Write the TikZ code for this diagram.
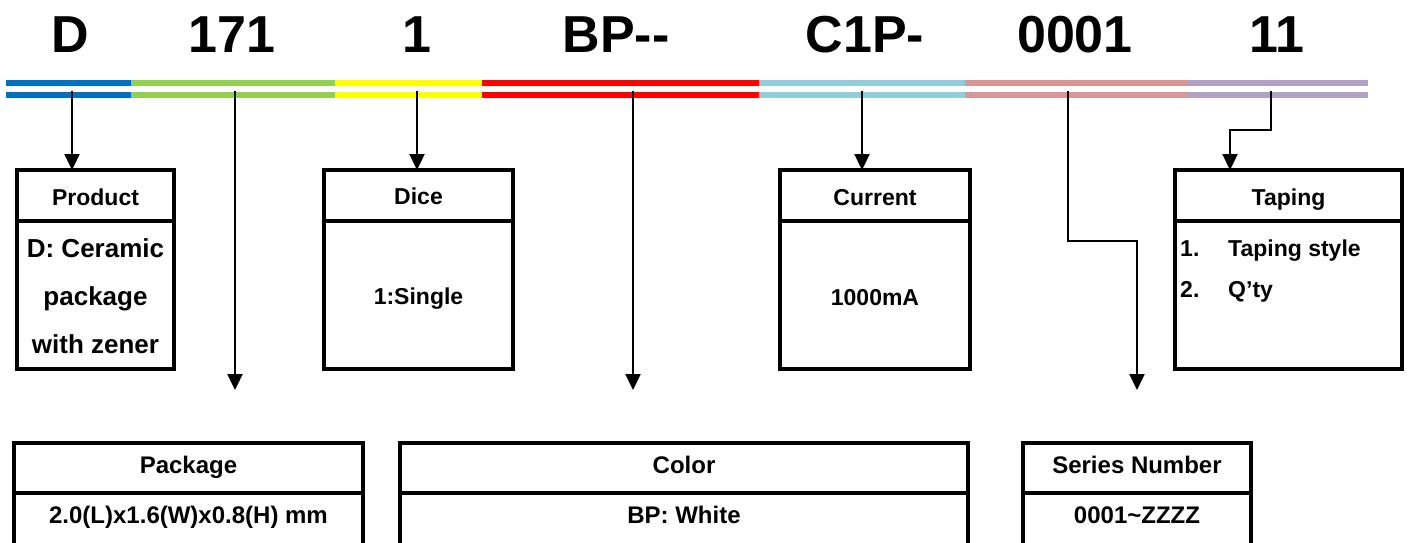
\documentclass[tikz,border=0pt]{standalone}
\usepackage{fontspec}
\setmainfont{Liberation Sans}
\usetikzlibrary{arrows.meta}
\definecolor{cblue}{HTML}{0070C0}
\definecolor{cgreen}{HTML}{92D050}
\definecolor{cyellow}{HTML}{FFFF00}
\definecolor{cred}{HTML}{FF0000}
\definecolor{ccyan}{HTML}{92CDDC}
\definecolor{cpink}{HTML}{D99694}
\definecolor{cpurple}{HTML}{B2A1C7}
\begin{document}
\begin{tikzpicture}[x=1pt,y=-1pt,
  seg/.style={line width=6pt},
  conn/.style={line width=2.3pt,-{Triangle[width=15pt,length=16pt]}},
  box/.style={draw,line width=3.2pt,rectangle,inner sep=0pt,outer sep=0pt,anchor=north west},
  divider/.style={line width=3.2pt},
  titletxt/.style={font=\fontsize{52}{60}\selectfont\bfseries,anchor=base,inner sep=0pt},
  lbl/.style={font=\fontsize{23}{28}\selectfont\bfseries,anchor=base,inner sep=0pt},
  biglbl/.style={lbl,font=\fontsize{26}{30}\selectfont\bfseries},
  botlbl/.style={lbl,font=\fontsize{24}{28}\selectfont\bfseries}]
\useasboundingbox (0,0) rectangle (1408,542);
\clip (0,0) rectangle (1408,542);
\fill[white] (0,0) rectangle (1408,542);

% title codes
\node[titletxt] (tD) at (70,52) {D};
\node[titletxt] (t171) at (232,52) {171};
\node[titletxt] (t1) at (417,52) {1};
\node[titletxt] (tBP) at (616,52) {BP-{}-};
\node[titletxt] (tC1P) at (865,52) {C1P-};
\node[titletxt] (t0001) at (1075,52) {0001};
\node[titletxt] (t11) at (1277,52) {11};

% coloured bars
\foreach \a/\b/\c in {6/131/cblue,131/335/cgreen,335/482/cyellow,482/759/cred,759/965/ccyan,965/1188/cpink,1188/1368/cpurple}{
  \draw[seg,\c] (\a,83) -- (\b,83);
  \draw[seg,\c] (\a,95) -- (\b,95);
}

% top boxes
\node[box,minimum width=157pt,minimum height=199pt] (prod) at (17,170) {};
\node[box,minimum width=189pt,minimum height=199pt] (dice) at (324,170) {};
\node[box,minimum width=190pt,minimum height=199pt] (curr) at (780,170) {};
\node[box,minimum width=227pt,minimum height=199pt] (tap) at (1175,170) {};
\foreach \n in {prod,dice,curr,tap}{
  \draw[divider] ([yshift=-51pt]\n.north west) -- ([yshift=-51pt]\n.north east);
}

% bottom boxes
\node[box,minimum width=349pt,minimum height=150pt] (pkg) at (14,443) {};
\node[box,minimum width=568pt,minimum height=150pt] (col) at (400,443) {};
\node[box,minimum width=228pt,minimum height=150pt] (ser) at (1023,443) {};
\foreach \n in {pkg,col,ser}{
  \draw[divider] ([yshift=-50pt]\n.north west) -- ([yshift=-50pt]\n.north east);
}

% texts top
\node[lbl] (prodH) at (95.5,205) {Product};
\node[biglbl] (prodB1) at (95.5,257) {D: Ceramic};
\node[biglbl] (prodB2) at (95.5,305) {package};
\node[biglbl] (prodB3) at (95.5,353) {with zener};
\node[lbl] (diceH) at (418.5,204) {Dice};
\node[lbl] (diceB) at (418.5,304) {1:Single};
\node[lbl] (currH) at (875,205) {Current};
\node[lbl] (currB) at (875,305) {1000mA};
\node[lbl] (tapH) at (1288.5,205) {Taping};
\node[lbl,anchor=base west] (tap1n) at (1180,256) {1.};
\node[lbl,anchor=base west] (tap1t) at (1228,256) {Taping style};
\node[lbl,anchor=base west] (tap2n) at (1180,297) {2.};
\node[lbl,anchor=base west] (tap2t) at (1228,297) {Q’ty};

% texts bottom
\node[botlbl] (pkgH) at (188.5,473) {Package};
\node[botlbl] (pkgB) at (188.5,523) {2.0(L)x1.6(W)x0.8(H) mm};
\node[botlbl] (colH) at (684,473) {Color};
\node[botlbl] (colB) at (684,523) {BP: White};
\node[botlbl] (serH) at (1137,473) {Series Number};
\node[botlbl] (serB) at (1137,523) {0001\textasciitilde ZZZZ};

% connectors
\coordinate (sD) at (72,91);
\coordinate (sPk) at (235,91);
\coordinate (ePk) at (235,390);
\coordinate (sDi) at (417,91);
\coordinate (sCo) at (633,91);
\coordinate (eCo) at (633,390);
\coordinate (sCu) at (862,91);
\coordinate (sSe) at (1068,91);
\coordinate (eSe) at (1137,390);
\coordinate (sTa) at (1271,91);

\draw[conn] (sD) -- (sD |- prod.north);
\draw[conn] (sPk) -- (ePk);
\draw[conn] (sDi) -- (sDi |- dice.north);
\draw[conn] (sCo) -- (eCo);
\draw[conn] (sCu) -- (sCu |- curr.north);
\draw[conn] (sSe) -- ++(0,150) -| (eSe);
\draw[conn] (sTa) -- ++(0,39) -| ([xshift=55pt]tap.north west);
\end{tikzpicture}
\end{document}
